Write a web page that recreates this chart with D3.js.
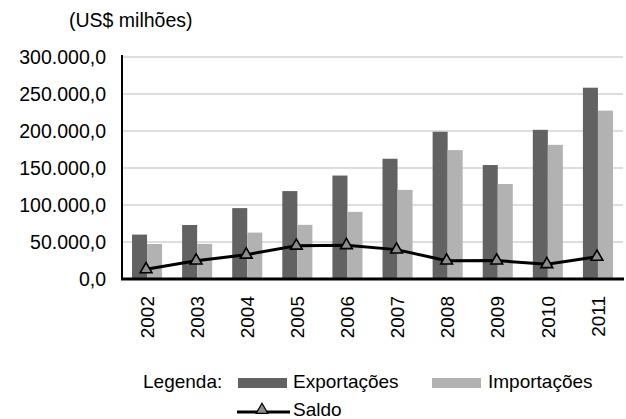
<!DOCTYPE html>
<html><head><meta charset="utf-8">
<script src="https://cdn.jsdelivr.net/npm/d3@7"></script>
<style>body{margin:0;background:#fff}svg{display:block}text{font-family:"Liberation Sans",Arial,sans-serif;fill:#000}</style>
</head><body><svg id="c" width="626" height="419"></svg>
<script>
const years = ["2002","2003","2004","2005","2006","2007","2008","2009","2010","2011"];
const exportacoes = [60000,73000,95800,118800,139800,162500,199000,154000,201600,258500];
const importacoes = [47300,47500,62700,73200,90700,120400,174200,128400,181300,227500];
const saldo = [13100,24800,32800,44900,45700,39700,24800,24900,20000,30000];
const yTicks = [0,50000,100000,150000,200000,250000,300000];

const svg = d3.select("#c");
const L=122, R=623, T=57, B=279;
const x = d3.scaleBand().domain(years).range([L,R]).paddingInner(0.4).paddingOuter(0.2);
const x0 = d3.scaleBand().domain(years).range([L,R]);
const y = d3.scaleLinear().domain([0,300000]).range([B,T]);
const inner = d3.scaleBand().domain(["e","i"]).range([0,x.bandwidth()]);
const fmt = v => d3.format(",.1f")(v).replace(/,/g,"#").replace(".",",").replace(/#/g,".");

// gridlines
svg.append("g").selectAll("line").data(yTicks.filter(d=>d>0)).join("line")
  .attr("x1",L).attr("x2",R).attr("y1",d=>y(d)).attr("y2",d=>y(d))
  .attr("stroke","#bdbdbd").attr("stroke-width",1);

// y labels
svg.append("g").selectAll("text").data(yTicks).join("text")
  .attr("x",106).attr("y",d=>y(d)).attr("dy","0.35em").attr("text-anchor","end")
  .attr("font-size",19.5).text(fmt);

svg.append("text").attr("x",69).attr("y",27).attr("font-size",19.5).text("(US$ milhões)");

// bars
const g = svg.append("g");
g.selectAll(".e").data(years).join("rect")
  .attr("x",d=>x(d)+inner("e")).attr("width",inner.bandwidth())
  .attr("y",(d,i)=>y(exportacoes[i])).attr("height",(d,i)=>B-y(exportacoes[i])).attr("fill","#626262");
g.selectAll(".i").data(years).join("rect")
  .attr("x",d=>x(d)+inner("i")).attr("width",inner.bandwidth())
  .attr("y",(d,i)=>y(importacoes[i])).attr("height",(d,i)=>B-y(importacoes[i])).attr("fill","#b2b2b2");

// axes lines
svg.append("line").attr("x1",L).attr("x2",L).attr("y1",T-2).attr("y2",B+1).attr("stroke","#000").attr("stroke-width",2);
svg.append("line").attr("x1",L-1).attr("x2",R+1).attr("y1",B).attr("y2",B).attr("stroke","#000").attr("stroke-width",3);

// saldo line
const cx = d => x0(d)+x0.bandwidth()/2 - 1;
const line = d3.line().x((d,i)=>cx(years[i])).y(d=>y(d));
svg.append("path").datum(saldo).attr("d",line).attr("fill","none").attr("stroke","#000").attr("stroke-width",3);
const tri = d3.symbol().type(d3.symbolTriangle).size(60);
svg.append("g").selectAll("path").data(saldo).join("path")
  .attr("d",tri).attr("transform",(d,i)=>`translate(${cx(years[i])},${y(d)})`)
  .attr("fill","#8c8c8c").attr("stroke","#000").attr("stroke-width",1.6);

// x labels
svg.append("g").selectAll("text").data(years).join("text")
  .attr("transform",d=>`translate(${cx(d)+1},296) rotate(-90)`)
  .attr("text-anchor","end").attr("dy","0.35em").attr("font-size",19).text(d=>d);

// legend
svg.append("text").attr("x",143).attr("y",388).attr("font-size",19).text("Legenda:");
svg.append("rect").attr("x",238).attr("y",378).attr("width",49).attr("height",10).attr("fill","#626262");
svg.append("text").attr("x",293).attr("y",388).attr("font-size",19).text("Exportações");
svg.append("rect").attr("x",432).attr("y",378).attr("width",49).attr("height",10).attr("fill","#b2b2b2");
svg.append("text").attr("x",488).attr("y",388).attr("font-size",19).text("Importações");
svg.append("line").attr("x1",237).attr("x2",290).attr("y1",412).attr("y2",412).attr("stroke","#000").attr("stroke-width",3);
svg.append("path").attr("d",tri).attr("transform","translate(262,410)").attr("fill","#8c8c8c").attr("stroke","#000").attr("stroke-width",1.2);
svg.append("text").attr("x",293).attr("y",416).attr("font-size",19).text("Saldo");
</script></body></html>
